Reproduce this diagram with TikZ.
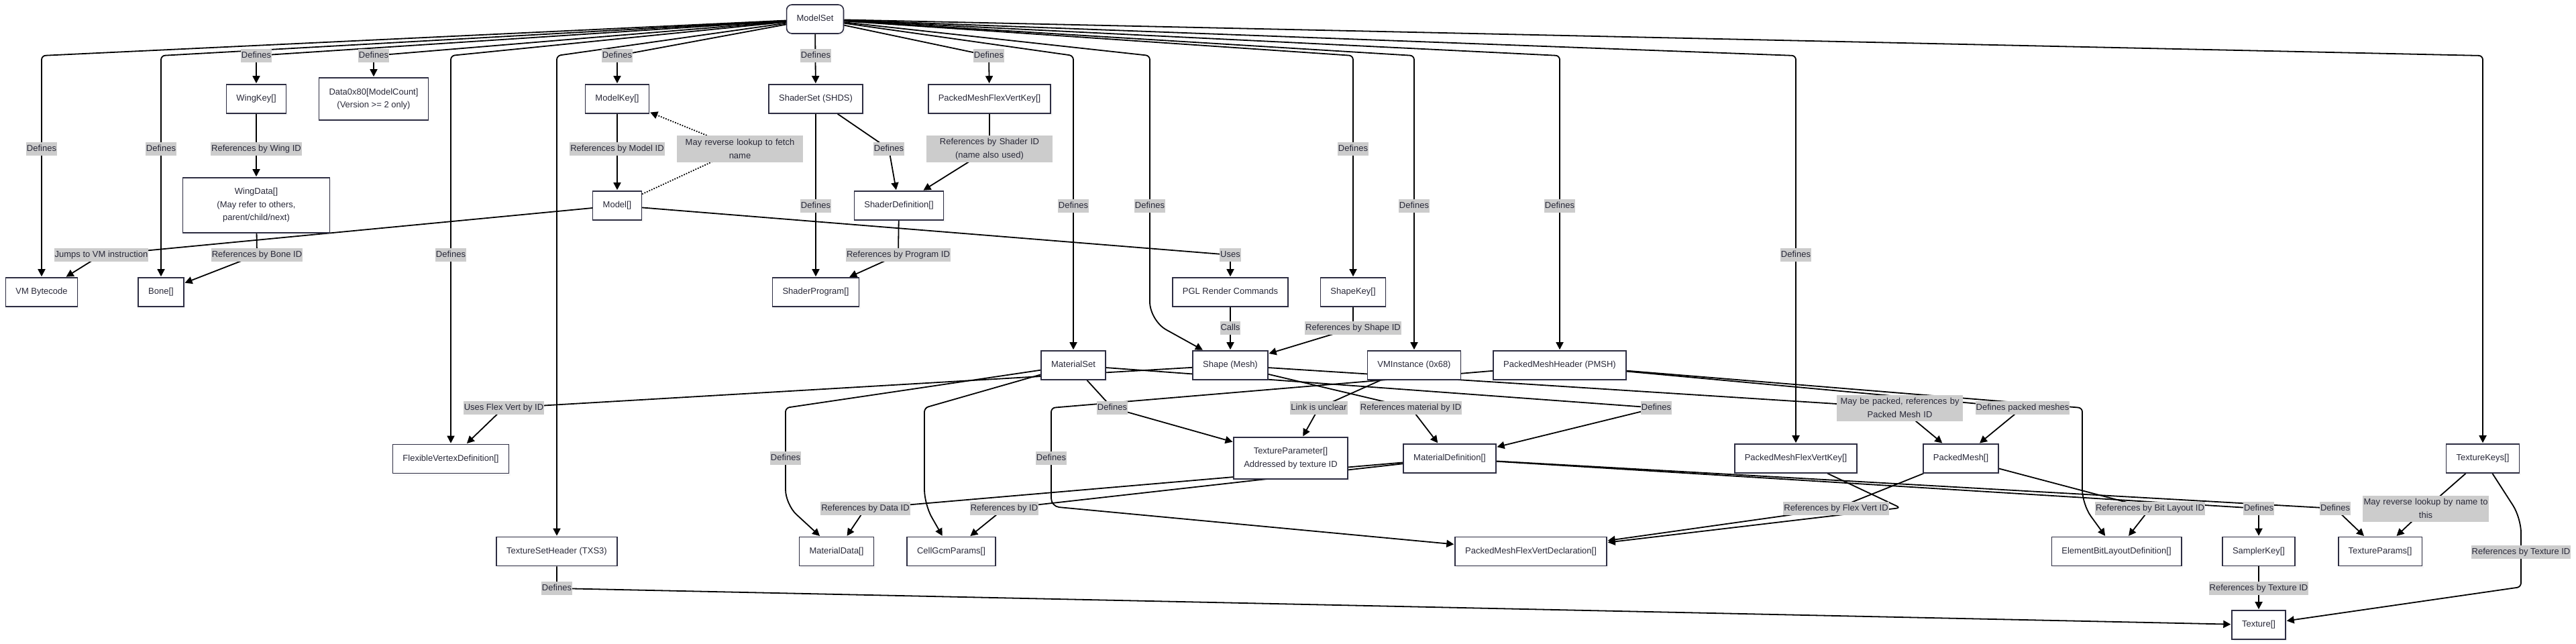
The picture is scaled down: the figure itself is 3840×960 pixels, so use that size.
\documentclass[tikz,border=0pt]{standalone}
\usepackage{fontspec}
\setmainfont{Liberation Sans}
\usetikzlibrary{arrows.meta,shadows}
\definecolor{nodeborder}{RGB}{45,45,66}
\definecolor{txt}{RGB}{40,40,56}
\definecolor{lblbg}{RGB}{204,204,204}
\pgfdeclarelayer{bg}
\pgfdeclarelayer{edges}
\pgfsetlayers{bg,edges,main}
\begin{document}
\begin{tikzpicture}[x=1pt,y=-1pt,
  every node/.style={font=\fontsize{13pt}{19.5pt}\selectfont, text=txt},
  boxbase/.style={draw=nodeborder, line width=1.6pt, fill=white, inner xsep=15pt, inner ysep=0pt,
    drop shadow={opacity=0.06, shadow xshift=2.5pt, shadow yshift=-3pt}},
  box/.style={boxbase, minimum height=43pt, text height=9.5pt, text depth=2.7pt},
  mbox/.style={boxbase, align=center},
  lbl/.style={fill=lblbg, inner xsep=1pt, inner ysep=0pt, minimum height=19.5pt, text height=9.5pt, text depth=2.7pt},
  mlbl/.style={fill=lblbg, inner xsep=1pt, inner ysep=0pt, minimum height=39pt, text width=186pt, align=center},
  edge/.style={draw=black, line width=1.8pt, -{Triangle[length=11pt,width=11pt]}, rounded corners=6pt, shorten >=1pt},
  dotedge/.style={edge, dotted}
]
\useasboundingbox (0,0) rectangle (3840,960);
\begin{pgfonlayer}{bg}
\fill[white] (0,0) rectangle (3840,960);
\end{pgfonlayer}

% ---------- nodes ----------
\node[box, rounded corners=8pt] (ms) at (1215,28.5) {ModelSet};
\node[box] (wk) at (382,147.5) {WingKey[]};
\node[mbox, minimum height=63pt] (d80) at (557,147.5) {Data0x80[ModelCount]\\(Version >= 2 only)};
\node[box] (mk) at (920,147.5) {ModelKey[]};
\node[box] (ss) at (1216,147.5) {ShaderSet (SHDS)};
\node[box] (pfk) at (1475,147.5) {PackedMeshFlexVertKey[]};
\node[mbox, minimum height=82pt, minimum width=219pt] (wd) at (382,306) {WingData[]\\(May refer to others,\\parent/child/next)};
\node[box] (mdl) at (920,306.5) {Model[]};
\node[box] (sd) at (1340,306.5) {ShaderDefinition[]};
\node[box] (vm) at (62,435.5) {VM Bytecode};
\node[box] (bone) at (240,435.5) {Bone[]};
\node[box] (sp) at (1216,435.5) {ShaderProgram[]};
\node[box] (pgl) at (1834,435.5) {PGL Render Commands};
\node[box] (sk) at (2017,435.5) {ShapeKey[]};
\node[box] (mset) at (1600,544.5) {MaterialSet};
\node[box] (shape) at (1834,544.5) {Shape (Mesh)};
\node[box] (vmi) at (2108,544.5) {VMInstance (0x68)};
\node[box] (pmsh) at (2325,544.5) {PackedMeshHeader (PMSH)};
\node[box] (fvd) at (672,684) {FlexibleVertexDefinition[]};
\node[mbox, minimum height=62pt] (tp) at (1924,683) {TextureParameter[]\\Addressed by texture ID};
\node[box] (mdef) at (2161,683.5) {MaterialDefinition[]};
\node[box] (pfk2) at (2677,683.5) {PackedMeshFlexVertKey[]};
\node[box] (pm) at (2923,683.5) {PackedMesh[]};
\node[box] (tk) at (3701,683.5) {TextureKeys[]};
\node[box] (txs) at (830,822) {TextureSetHeader (TXS3)};
\node[box] (mdata) at (1247,822) {MaterialData[]};
\node[box] (cgp) at (1418,822) {CellGcmParams[]};
\node[box] (pfd) at (2282,822) {PackedMeshFlexVertDeclaration[]};
\node[box] (ebld) at (3155,822) {ElementBitLayoutDefinition[]};
\node[box] (smk) at (3367,822) {SamplerKey[]};
\node[box] (tpar) at (3548,822) {TextureParams[]};
\node[box] (tex) at (3367,931.5) {Texture[]};

% ---------- labels ----------
\node[lbl] (L1) at (62,222) {Defines};
\node[lbl] (L2) at (240,222) {Defines};
\node[lbl] (L3) at (382,83) {Defines};
\node[lbl] (L4) at (557,83) {Defines};
\node[lbl] (L5) at (382,222) {References by Wing ID};
\node[lbl] (L6) at (151,380) {Jumps to VM instruction};
\node[lbl] (L7) at (383,380) {References by Bone ID};
\node[lbl] (L8) at (920,83) {Defines};
\node[lbl] (L9) at (920,222) {References by Model ID};
\node[mlbl] (L10) at (1103,222) {May reverse lookup to fetch\\name};
\node[lbl] (L11) at (1216,83) {Defines};
\node[lbl] (L12) at (1216,307) {Defines};
\node[lbl] (L13) at (672,380) {Defines};
\node[lbl] (L14) at (1325,222) {Defines};
\node[lbl] (L15) at (1474,83) {Defines};
\node[mlbl] (L16) at (1475,222) {References by Shader ID\\(name also used)};
\node[lbl] (L17) at (1339,380) {References by Program ID};
\node[lbl] (L18) at (1600,307) {Defines};
\node[lbl] (L19) at (1714,307) {Defines};
\node[lbl] (L20) at (1834,380) {Uses};
\node[lbl] (L21) at (1834,489) {Calls};
\node[lbl] (L22) at (2017,222) {Defines};
\node[lbl] (L23) at (2017,489) {References by Shape ID};
\node[lbl] (L24) at (2108,307) {Defines};
\node[lbl] (L25) at (2325,307) {Defines};
\node[lbl] (L26) at (2677,380) {Defines};
\node[lbl] (L27) at (751,608) {Uses Flex Vert by ID};
\node[lbl] (L28) at (1171,683) {Defines};
\node[lbl] (L29) at (1290,758) {References by Data ID};
\node[lbl] (L30) at (830,877) {Defines};
\node[lbl] (L31) at (1658,608) {Defines};
\node[lbl] (L32) at (1567,683) {Defines};
\node[lbl] (L33) at (1497,758) {References by ID};
\node[lbl] (L34) at (1966,608) {Link is unclear};
\node[lbl] (L35) at (2103,608) {References material by ID};
\node[lbl] (L36) at (2469,608) {Defines};
\node[mlbl] (L37) at (2832,608) {May be packed, references by\\Packed Mesh ID};
\node[lbl] (L38) at (3015,608) {Defines packed meshes};
\node[lbl] (L39) at (2737,758) {References by Flex Vert ID};
\node[lbl] (L40) at (3205,758) {References by Bit Layout ID};
\node[lbl] (L41) at (3367,758) {Defines};
\node[lbl] (L42) at (3481,758) {Defines};
\node[mlbl] (L43) at (3616,758) {May reverse lookup by name to\\this};
\node[lbl] (L44) at (3758,823) {References by Texture ID};
\node[lbl] (L45) at (3367,877) {References by Texture ID};

% ---------- edges ----------
\begin{pgfonlayer}{edges}
\draw[edge] (ms) -- (62,83) -- (vm);
\draw[edge] (ms) -- (240,83) -- (bone);
\draw[edge] (ms) -- (L3.center) -- (wk);
\draw[edge] (ms) -- (L4.center) -- (d80);
\draw[edge] (wk) -- (wd);
\draw[edge] (mdl) -- (L6.center) -- (vm);
\draw[edge] (wd) -- (L7.center) -- (bone);
\draw[edge] (ms) -- (L8.center) -- (mk);
\draw[edge] (mk) -- (mdl);
\draw[dotedge] (mdl) -- (L10.center) -- (mk);
\draw[edge] (ms) -- (ss);
\draw[edge] (ss) -- (sp);
\draw[edge] (ms) -- (672,83) -- (fvd);
\draw[edge] (ss) -- (L14.center) -- (sd);
\draw[edge] (ms) -- (L15.center) -- (pfk);
\draw[edge] (pfk) -- (L16.center) -- (sd);
\draw[edge] (sd) -- (L17.center) -- (sp);
\draw[edge] (ms) -- (1600,83) -- (mset);
\draw[edge] (ms) -- (1714,83) [rounded corners=28pt] -- (1714,478) -- (shape);
\draw[edge] (mdl) -- (L20.center) -- (pgl);
\draw[edge] (pgl) -- (shape);
\draw[edge] (ms) -- (2017,83) -- (sk);
\draw[edge] (sk) -- (L23.center) -- (shape);
\draw[edge] (ms) -- (2108,83) -- (vmi);
\draw[edge] (ms) -- (2325,83) -- (pmsh);
\draw[edge] (ms) -- (2677,83) -- (pfk2);
\draw[edge] (ms) -- (3701,83) -- (tk);
\draw[edge] (ms) -- (830,83) -- (txs);
\draw[edge] (shape) -- (L27.center) -- (fvd);
\draw[edge] (mset) -- (1171,608) [rounded corners=22pt] -- (1171,752) -- (mdata);
\draw[edge] (mdef) -- (L29.center) -- (mdata);
\draw[edge] (txs) -- (L30.center) -- (tex);
\draw[edge] (mset) -- (L31.center) -- (tp);
\draw[edge] (pmsh) -- (1567,608) [rounded corners=12pt] -- (1567,755) -- (pfd);
\draw[edge] (mdef) -- (L33.center) -- (cgp);
\draw[edge] (mset) -- (1378,608) [rounded corners=22pt] -- (1378,752) -- (cgp);
\draw[edge] (vmi) -- (L34.center) -- (tp);
\draw[edge] (shape) -- (L35.center) -- (mdef);
\draw[edge] (mset) -- (L36.center) -- (mdef);
\draw[edge] (shape) -- (L37.center) -- (pm);
\draw[edge] (pmsh) -- (L38.center) -- (pm);
\draw[edge] (pm) -- (L39.center) -- (pfd);
\draw[edge] (pfk2) -- (2833,757) -- (pfd);
\draw[edge] (pm) -- (L40.center) -- (ebld);
\draw[edge] (pmsh) -- (3104,608) [rounded corners=22pt] -- (3104,752) -- (ebld);
\draw[edge] (mdef) -- (L41.center) -- (smk);
\draw[edge] (mdef) -- (L42.center) -- (tpar);
\draw[edge] (tk) -- (L43.center) -- (tpar);
\draw[edge] (tk) [rounded corners=22pt] -- (3758,772) [rounded corners=6pt] -- (3758,875) -- (tex);
\draw[edge] (smk) -- (L45.center) -- (tex);
\end{pgfonlayer}
\end{tikzpicture}
\end{document}
